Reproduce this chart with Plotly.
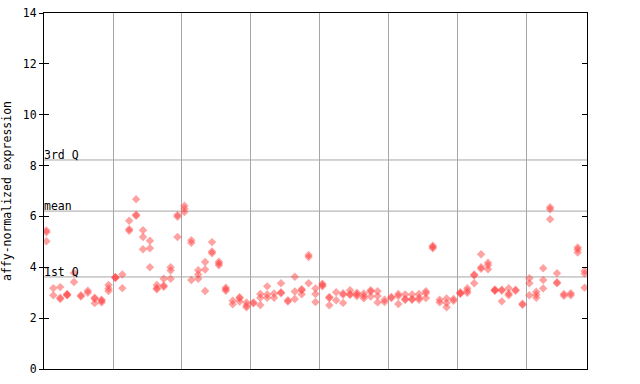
import plotly.graph_objects as go

# replicate values for each sample column (left to right)
replicates = [
    [5.45, 5.38, 5.02], [3.18, 2.90], [3.22, 2.80, 2.75], [2.95, 2.92, 2.90], [3.78, 3.42],
    [2.90, 2.85], [3.08, 3.00], [2.80, 2.76, 2.59], [2.72, 2.68, 2.62], [3.30, 3.17, 3.07],
    [3.62, 3.58, 3.60], [3.72, 3.18], [5.83, 5.50, 5.44], [6.68, 6.07, 6.03], [5.46, 5.19, 4.71],
    [5.04, 4.75, 4.00], [3.30, 3.18, 3.14], [3.55, 3.28, 3.23], [4.00, 3.87, 3.55], [6.06, 5.99, 5.19],
    [6.42, 6.30, 6.17], [5.06, 4.96, 3.50], [3.88, 3.72, 3.55], [4.21, 3.91, 3.07], [4.99, 4.62, 4.55],
    [4.22, 4.15, 4.08], [3.20, 3.14, 3.08], [2.68, 2.55], [2.82, 2.78, 2.65], [2.62, 2.50, 2.43],
    [2.62, 2.58], [2.95, 2.80, 2.52], [3.25, 2.93, 2.80], [2.97, 2.80], [3.37, 3.02, 2.98],
    [2.70, 2.65], [3.63, 3.05, 2.75], [3.14, 3.10, 2.94], [4.48, 4.40, 3.37], [3.17, 2.95, 2.63],
    [3.35, 3.30, 3.25], [2.83, 2.79, 2.51], [3.02, 2.70], [2.98, 2.92, 2.60], [3.10, 2.94, 2.92],
    [3.00, 2.93, 2.87], [2.97, 2.87, 2.78], [3.10, 3.05, 2.85], [3.06, 2.87, 2.62], [2.72, 2.63],
    [2.83, 2.79], [2.95, 2.87, 2.56], [2.93, 2.75, 2.72], [2.93, 2.75, 2.72], [2.95, 2.80, 2.72],
    [3.06, 2.98, 2.79], [4.85, 4.80, 4.75], [2.72, 2.62], [2.77, 2.60, 2.43], [2.75, 2.68],
    [3.02, 2.98, 2.96], [3.18, 3.08, 3.00], [3.72, 3.68, 3.37], [4.51, 4.00, 3.94], [4.18, 4.08, 3.92],
    [3.13, 3.10, 3.08], [3.12, 3.09, 2.66], [3.18, 2.97, 2.90], [3.12, 3.08], [2.57, 2.53],
    [3.57, 3.37, 2.90], [3.04, 2.92, 2.80], [3.96, 3.50, 3.17], [6.36, 6.28, 5.89], [3.77, 3.41, 3.37],
    [2.95, 2.88], [2.98, 2.90], [4.78, 4.70, 4.58], [3.85, 3.75, 3.20],
]

group_size = 10
quartile_labels = ["1st Q", "mean", "3rd Q"]
quartile_values = [3.62, 6.21, 8.22]
y_ticks = [0, 2, 4, 6, 8, 10, 12, 14]

xs, ys = [], []
for i, vals in enumerate(replicates):
    for v in vals:
        xs.append(i)
        ys.append(v)

n = len(replicates)
separators = [g - 0.35 for g in range(group_size, n, group_size)]

font = "DejaVu Sans Mono, monospace"

fig = go.Figure()
fig.add_trace(go.Scatter(
    x=xs, y=ys, mode="markers",
    marker=dict(symbol="diamond", size=6.5, color="rgba(255,70,70,0.5)", line=dict(width=0)),
    showlegend=False, hoverinfo="y",
))
# invisible trace for secondary axis (inner ticks)
fig.add_trace(go.Scatter(x=[None], y=[None], yaxis="y2", showlegend=False))

for lab, val in zip(quartile_labels, quartile_values):
    fig.add_hline(y=val, line=dict(color="#a6a6a6", width=1), layer="below")
    fig.add_annotation(x=0, xref="paper", y=val, yref="y", text=lab, showarrow=False,
                       xanchor="left", yanchor="bottom", xshift=-2, yshift=-4,
                       font=dict(family=font, size=11.5, color="black"))

fig.update_layout(
    width=640, height=384,
    margin=dict(l=44, r=53, t=13, b=15, autoexpand=False),
    paper_bgcolor="white", plot_bgcolor="white",
    xaxis=dict(range=[-0.35, n - 0.65], tickvals=separators, showticklabels=False, ticks="",
               showgrid=True, gridcolor="#a6a6a6", gridwidth=1, zeroline=False, automargin=False,
               showline=True, linecolor="black", linewidth=1, mirror=True),
    yaxis=dict(range=[0, 14], tickvals=y_ticks, ticks="outside", ticklen=4, tickcolor="black",
               showgrid=False, zeroline=False, showline=True, linecolor="black", linewidth=1,
               mirror=True, automargin=False, tickfont=dict(family=font, size=11.5, color="black"),
               title=dict(text="affy-normalized expression", standoff=8,
                          font=dict(family=font, size=11.5, color="black"))),
    yaxis2=dict(range=[0, 14], overlaying="y", side="left", tickvals=y_ticks, ticks="inside",
                ticklen=5, tickcolor="black", mirror="ticks", showticklabels=False,
                showgrid=False, zeroline=False, showline=False, automargin=False),
)

fig.write_html("out.html")
